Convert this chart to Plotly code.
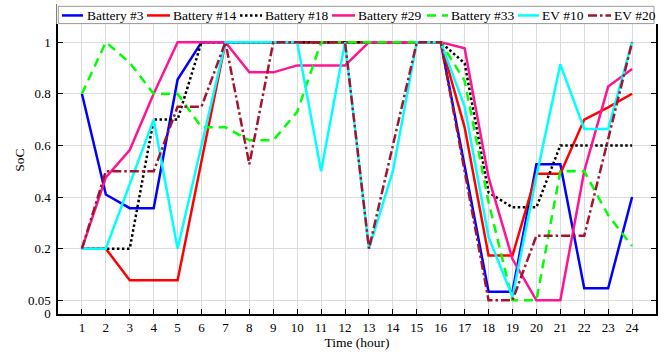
import plotly.graph_objects as go

# ---- data: state of charge per hour ----
hours = list(range(1, 25))

battery_3 = [0.80, 0.41, 0.357, 0.357, 0.855, 1, 1, 1, 1, 1, 1, 1,
             1, 1, 1, 1, 0.52, 0.075, 0.075, 0.527, 0.527, 0.085, 0.085, 0.40]
battery_14 = [0.20, 0.20, 0.108, 0.108, 0.108, 0.54, 1, 1, 1, 1, 1, 1,
              1, 1, 1, 1, 0.67, 0.18, 0.18, 0.49, 0.49, 0.70, 0.747, 0.80]
battery_18 = [0.20, 0.20, 0.20, 0.70, 0.70, 1, 1, 1, 1, 1, 1, 1,
              1, 1, 1, 1, 0.918, 0.418, 0.36, 0.36, 0.60, 0.60, 0.60, 0.60]
battery_29 = [0.20, 0.476, 0.582, 0.80, 1, 1, 1, 0.883, 0.883, 0.91, 0.91, 0.91,
              1, 1, 1, 1, 0.976, 0.476, 0.17, 0.05, 0.05, 0.50, 0.828, 0.896]
battery_33 = [0.80, 1.0, 0.92, 0.80, 0.80, 0.67, 0.67, 0.62, 0.62, 0.73, 1, 1,
              1, 1, 1, 1, 0.85, 0.38, 0.05, 0.05, 0.50, 0.50, 0.33, 0.21]
ev_10 = [0.20, 0.20, 0.45, 0.70, 0.20, 0.60, 1, 1, 1, 1, 0.50, 1,
         0.20, 0.50, 1, 1, 0.75, 0.245, 0.06, 0.48, 0.914, 0.664, 0.664, 1.0]
ev_20 = [0.20, 0.50, 0.50, 0.50, 0.75, 0.75, 1, 0.527, 1, 1, 1, 1,
         0.20, 0.60, 1, 1, 0.50, 0.05, 0.05, 0.25, 0.25, 0.25, 0.625, 1.0]

names = ["Battery #3", "Battery #14", "Battery #18", "Battery #29",
         "Battery #33", "EV #10", "EV #20"]
values = [battery_3, battery_14, battery_18, battery_29, battery_33, ev_10, ev_20]

ytick_soc = [0, 0.05, 0.2, 0.4, 0.6, 0.8, 1]
ytick_text = ["0", "0.05", "0.2", "0.4", "0.6", "0.8", "1"]

# ---- styles ----
colors = ["#0000FF", "#FF0000", "#000000", "#FF1493", "#00FF00", "#00FFFF", "#A2142F"]
dashes = ["solid", "solid", "2.5px,2.5px", "solid", "9px,6px", "solid", "9px,3px,2.5px,3px"]
LINE_W = 2.5
FONT = "Liberation Serif, Times New Roman, serif"

FIG_W, FIG_H = 672, 354
M_L, M_R, M_T, M_B = 58, 16, 4, 40
PLOT_W = FIG_W - M_L - M_R
PLOT_H = FIG_H - M_T - M_B


def px_x(px):
    return (px - M_L) / PLOT_W


def px_y(py):
    return (FIG_H - M_B - py) / PLOT_H


def soc_to_axis(v):
    """Broken SoC scale: the 0.05-0.2 band is stretched to a full 0.2 step,
    and the range below 0.05 is squeezed under it."""
    if v >= 0.2:
        return v
    if v >= 0.05:
        return (v - 0.05) / 0.15 * 0.2
    return v - 0.05


fig = go.Figure()
for name, vals, color, dash in zip(names, values, colors, dashes):
    fig.add_trace(go.Scatter(
        x=hours, y=[soc_to_axis(v) for v in vals], customdata=vals,
        mode="lines", name=name, showlegend=False,
        line=dict(color=color, width=LINE_W, dash=dash),
        hovertemplate=name + "<br>hour %{x}<br>SoC %{customdata:.3f}<extra></extra>",
    ))

axis_common = dict(
    showline=True, linecolor="black", linewidth=1.5, mirror="ticks",
    ticks="inside", ticklen=5, tickwidth=1, tickcolor="black",
    showgrid=True, gridcolor="#dcdcdc", gridwidth=1, zeroline=False,
    tickfont=dict(family=FONT, size=13, color="black"),
)

fig.update_xaxes(
    range=[0, 25], tickmode="array", tickvals=hours,
    ticktext=[str(h) for h in hours], ticklabelstandoff=1,
    title=dict(text="Time (hour)", font=dict(family=FONT, size=13.5, color="black"), standoff=2),
    **axis_common,
)
fig.update_yaxes(
    range=[-0.053, 1.14], tickmode="array",
    tickvals=[soc_to_axis(t) for t in ytick_soc], ticktext=ytick_text,
    ticklabelstandoff=3,
    title=dict(text="SoC", font=dict(family=FONT, size=13.5, color="black"), standoff=0),
    **axis_common,
)

# ---- legend box along the top of the axes ----
shapes = [
    dict(type="rect", xref="paper", yref="paper", layer="above",
         x0=px_x(56.5), x1=px_x(659), y0=px_y(22), y1=px_y(2),
         fillcolor="white", line=dict(width=0)),
    dict(type="rect", xref="paper", yref="paper", layer="above",
         x0=px_x(58.3), x1=px_x(654), y0=px_y(21.7), y1=px_y(4.3),
         fillcolor="white", line=dict(color="#9a9a9a", width=1)),
]
annotations = []
legend_slots = [(62, 83, 85), (147, 170, 171), (240, 262, 263), (332, 355, 356),
                (427, 448, 449), (518, 539, 540), (588, 611, 612)]
LEG_Y = 13.5
for (lx0, lx1, tx), name, color, dash in zip(legend_slots, names, colors, dashes):
    shapes.append(dict(type="line", xref="paper", yref="paper", layer="above",
                       x0=px_x(lx0), x1=px_x(lx1), y0=px_y(LEG_Y), y1=px_y(LEG_Y),
                       line=dict(color=color, width=LINE_W, dash=dash)))
    annotations.append(dict(xref="paper", yref="paper", x=px_x(tx), y=px_y(LEG_Y),
                            xanchor="left", yanchor="middle", showarrow=False,
                            text=name, font=dict(family=FONT, size=13.5, color="black")))

fig.update_layout(
    width=FIG_W, height=FIG_H,
    margin=dict(l=M_L, r=M_R, t=M_T, b=M_B, pad=0),
    paper_bgcolor="white", plot_bgcolor="white",
    shapes=shapes, annotations=annotations,
    showlegend=False,
)

fig.write_html("out.html")
